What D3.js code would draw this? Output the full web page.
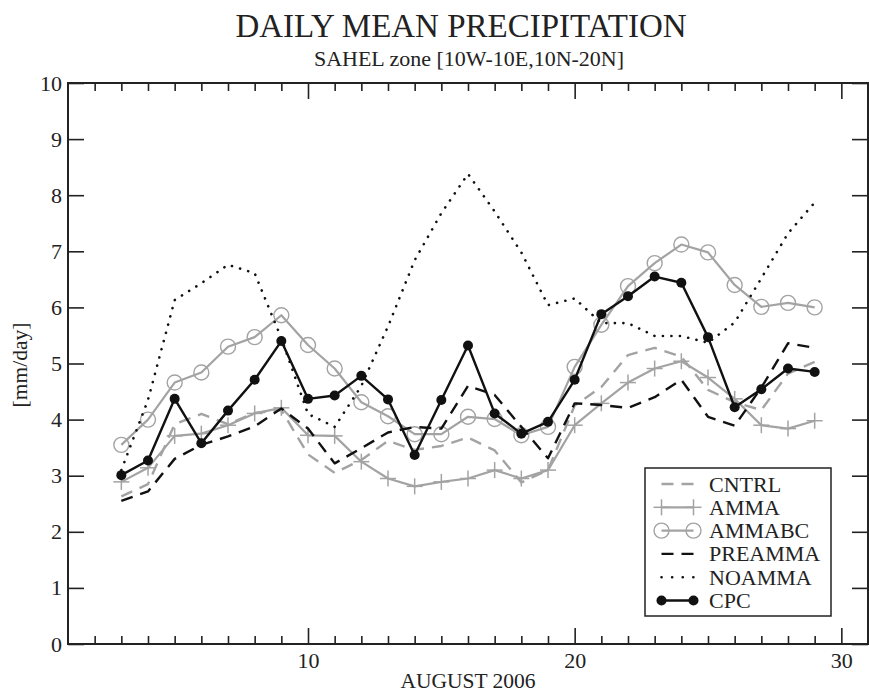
<!DOCTYPE html>
<html>
<head>
<meta charset="utf-8">
<script src="https://cdn.jsdelivr.net/npm/d3@7"></script>
<style>
  html, body { margin: 0; padding: 0; background: #fff; }
  svg { display: block; }
  svg text { font-family: "Liberation Serif", "Times New Roman", serif; fill: #222; }
</style>
</head>
<body>
<svg id="chart" width="869" height="694"></svg>
<script>
// ---- Data ----
const days = [3,4,5,6,7,8,9,10,11,12,13,14,15,16,17,18,19,20,21,22,23,24,25,26,27,28,29];
const cntrl   = [2.63,2.85,3.92,4.10,3.92,4.12,4.17,3.38,3.05,3.28,3.62,3.46,3.53,3.68,3.45,2.88,3.10,4.25,4.58,5.15,5.28,5.12,4.53,4.31,4.17,4.82,5.03];
const amma    = [2.89,3.14,3.71,3.75,3.90,4.11,4.21,3.72,3.71,3.25,2.95,2.81,2.89,2.95,3.10,2.95,3.10,3.90,4.29,4.66,4.91,5.04,4.75,4.37,3.90,3.84,3.98];
const ammabc  = [3.55,4.00,4.66,4.84,5.30,5.47,5.86,5.33,4.91,4.31,4.06,3.74,3.74,4.05,4.01,3.72,3.87,4.94,5.69,6.38,6.79,7.12,6.98,6.40,6.01,6.08,6.00];
const preamma = [2.55,2.72,3.30,3.55,3.70,3.88,4.20,3.84,3.22,3.49,3.77,3.87,3.84,4.60,4.44,3.87,3.31,4.29,4.26,4.21,4.40,4.71,4.05,3.89,4.57,5.36,5.28];
const noamma  = [3.10,4.35,6.13,6.43,6.76,6.61,5.45,4.10,3.87,4.60,5.66,6.84,7.68,8.38,7.71,6.98,6.04,6.16,5.72,5.72,5.49,5.49,5.37,5.73,6.52,7.32,7.87];
const cpc     = [3.01,3.27,4.37,3.58,4.16,4.71,5.40,4.37,4.43,4.78,4.36,3.37,4.35,5.32,4.11,3.75,3.96,4.71,5.88,6.20,6.55,6.44,5.47,4.22,4.54,4.91,4.85];
const seriesNames = ["CNTRL","AMMA","AMMABC","PREAMMA","NOAMMA","CPC"];
const xMajorTicks = [10,20,30];
const yTicks = [0,1,2,3,4,5,6,7,8,9,10];
const titleText = "DAILY MEAN PRECIPITATION";
const subtitleText = "SAHEL zone [10W-10E,10N-20N]";
const xLabel = "AUGUST 2006";
const yLabel = "[mm/day]";

// ---- Layout ----
const FONT = "'Liberation Serif', 'Times New Roman', serif";
const svg = d3.select("#chart");
const L = 68, R = 868, T = 83, B = 644;
const x = d3.scaleLinear().domain([1,31]).range([L,R]);
const y = d3.scaleLinear().domain([0,10]).range([B,T]);
const GRAY = "#a3a3a3", BLACK = "#111";

const styles = {
  CNTRL:   {color: GRAY,  width: 2.4, dash: "12,8", marker: null, data: cntrl},
  AMMA:    {color: GRAY,  width: 2.2, dash: null, marker: "plus", data: amma},
  AMMABC:  {color: GRAY,  width: 2.2, dash: null, marker: "circle", data: ammabc},
  PREAMMA: {color: BLACK, width: 2.4, dash: "12,8", marker: null, data: preamma},
  NOAMMA:  {color: BLACK, width: 2.6, dash: "0.1,8.4", cap: "round", marker: null, data: noamma},
  CPC:     {color: BLACK, width: 2.4, dash: null, marker: "dot", data: cpc}
};

function txt(g, s, size){ return g.append("text").style("font-family", FONT).style("font-size", size+"px").attr("fill","#222").text(s); }

// Titles
txt(svg, titleText, 33).attr("x", 461).attr("y", 37).attr("text-anchor","middle");
txt(svg, subtitleText, 22).attr("x", 469).attr("y", 66).attr("text-anchor","middle");

// Axes (inside ticks)
function styleAxis(g){
  g.select(".domain").remove();
  g.selectAll(".tick line").attr("stroke","#222").attr("stroke-width",1.6);
  g.selectAll(".tick text").style("font-size","22px").style("font-family",FONT).attr("fill","#222");
}
const minorX = d3.range(2,31).filter(d => !xMajorTicks.includes(d));
svg.append("g").attr("transform",`translate(0,${B})`)
  .call(d3.axisBottom(x).tickValues(minorX).tickSize(-8).tickFormat("")).call(styleAxis);
svg.append("g").attr("transform",`translate(0,${B})`)
  .call(d3.axisBottom(x).tickValues(xMajorTicks).tickSize(-16).tickPadding(8).tickFormat(d3.format("d"))).call(styleAxis);
svg.append("g").attr("transform",`translate(0,${T})`)
  .call(d3.axisTop(x).tickValues(minorX).tickSize(-8).tickFormat("")).call(styleAxis);
svg.append("g").attr("transform",`translate(0,${T})`)
  .call(d3.axisTop(x).tickValues(xMajorTicks).tickSize(-16).tickFormat("")).call(styleAxis);
svg.append("g").attr("transform",`translate(${L},0)`)
  .call(d3.axisLeft(y).tickValues(yTicks).tickSize(-16).tickPadding(6).tickFormat(d3.format("d"))).call(styleAxis);
svg.append("g").attr("transform",`translate(${R},0)`)
  .call(d3.axisRight(y).tickValues(yTicks).tickSize(-16).tickFormat("")).call(styleAxis);

// Frame
svg.append("rect").attr("x",L).attr("y",T).attr("width",R-L).attr("height",B-T)
  .attr("fill","none").attr("stroke","#222").attr("stroke-width",2);

// Axis labels
txt(svg, xLabel, 21.5).attr("x", 468).attr("y", 688).attr("text-anchor","middle");
txt(svg, yLabel, 21.5).attr("transform","translate(27,365) rotate(-90)").attr("text-anchor","middle");

// Markers
function drawMarker(g, type, cx, cy, color){
  if (type === "plus") {
    g.append("line").attr("x1",cx-8).attr("x2",cx+8).attr("y1",cy).attr("y2",cy).attr("stroke",color).attr("stroke-width",1.5);
    g.append("line").attr("x1",cx).attr("x2",cx).attr("y1",cy-8).attr("y2",cy+8).attr("stroke",color).attr("stroke-width",1.5);
  } else if (type === "circle") {
    g.append("circle").attr("cx",cx).attr("cy",cy).attr("r",7.5).attr("fill","none").attr("stroke",color).attr("stroke-width",1.4);
  } else if (type === "dot") {
    g.append("circle").attr("cx",cx).attr("cy",cy).attr("r",5).attr("fill",color);
  }
}

// Series
const line = d3.line().x((d,i) => x(days[i])).y(d => y(d));
seriesNames.forEach(name => {
  const s = styles[name];
  const g = svg.append("g");
  g.append("path").attr("d", line(s.data)).attr("fill","none")
    .attr("stroke", s.color).attr("stroke-width", s.width)
    .attr("stroke-dasharray", s.dash).attr("stroke-linecap", s.cap || "butt")
    .attr("stroke-linejoin","round");
  if (s.marker) s.data.forEach((v,i) => drawMarker(g, s.marker, x(days[i]), y(v), s.color));
});

// Legend
const lg = svg.append("g");
lg.append("rect").attr("x",645).attr("y",468).attr("width",186).attr("height",148)
  .attr("fill","#fff").attr("stroke","#222").attr("stroke-width",1.5);
seriesNames.forEach((name,i) => {
  const s = styles[name];
  const cy = 484 + i*23.3;
  const x1 = 661.5, x2 = 693.5;
  lg.append("line").attr("x1",x1).attr("x2",x2).attr("y1",cy).attr("y2",cy)
    .attr("stroke",s.color).attr("stroke-width",s.width)
    .attr("stroke-dasharray", name === "NOAMMA" ? "0.1,10.5" : s.dash)
    .attr("stroke-linecap", s.cap || "butt");
  if (s.marker) { drawMarker(lg, s.marker, x1, cy, s.color); drawMarker(lg, s.marker, x2, cy, s.color); }
  txt(lg, name, 22).attr("x",709).attr("y",cy+7.5);
});
</script>
</body>
</html>
